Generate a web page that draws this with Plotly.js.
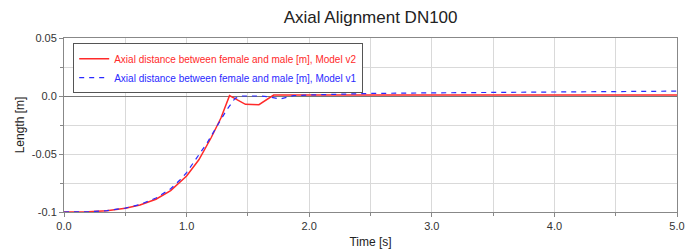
<!DOCTYPE html>
<html>
<head>
<meta charset="utf-8">
<script src="https://cdn.plot.ly/plotly-3.0.1.min.js"></script>
<style>
  html, body { margin: 0; padding: 0; background: #fff; }
  #chart { width: 694px; height: 249px; }
</style>
</head>
<body>
<div id="chart"></div>
<script>
// ---- Data ----
const timeV2 = [0, 0.2, 0.35, 0.5, 0.62, 0.75, 0.87, 1.0, 1.1, 1.2, 1.28, 1.35, 1.48, 1.59, 1.71, 2.0, 3.0, 3.15, 4.0, 5.0];
const lengthV2 = [-0.1, -0.0998, -0.0989, -0.0968, -0.094, -0.089, -0.0815, -0.069, -0.055, -0.036, -0.019, 0.0003, -0.0072, -0.0075, 0.0008, 0.0007, 0.0007, 0.0008, 0.0008, 0.0008];

const timeV1 = [0, 0.2, 0.35, 0.5, 0.62, 0.75, 0.87, 0.95, 1.0, 1.12, 1.17, 1.245, 1.327, 1.395, 1.45, 1.6, 1.66, 1.76, 1.87, 2.0, 2.5, 3.0, 3.5, 4.0, 4.5, 5.0];
const lengthV1 = [-0.1, -0.0998, -0.0988, -0.0966, -0.0935, -0.088, -0.080, -0.072, -0.066, -0.048, -0.040, -0.0265, -0.012, -0.002, 0.0, 0.0, -0.0005, -0.0026, 0.0003, 0.0009, 0.0022, 0.0027, 0.0032, 0.0036, 0.004, 0.0042];

const nameV2 = 'Axial distance between female and male [m], Model v2';
const nameV1 = 'Axial distance between female and male [m], Model v1';

const xTickVals = [0, 1, 2, 3, 4, 5];
const xTickText = ['0.0', '1.0', '2.0', '3.0', '4.0', '5.0'];
const yTickVals = [-0.1, -0.05, 0, 0.05];
const yTickText = ['-0.1', '-0.05', '0.0', '0.05'];

const colorV2 = '#ff2a2a';
const colorV1 = '#2a2aff';

const traces = [
  {
    x: timeV2, y: lengthV2, type: 'scatter', mode: 'lines',
    name: '<span style="color:' + colorV2 + '">' + nameV2 + '</span>',
    line: { color: colorV2, width: 1.5 }
  },
  {
    x: timeV1, y: lengthV1, type: 'scatter', mode: 'lines',
    name: '<span style="color:' + colorV1 + '">' + nameV1 + '</span>',
    line: { color: colorV1, width: 1.2, dash: '5px,5px' }
  }
];

const tickFont = { family: 'Liberation Sans, Arial, sans-serif', size: 11, color: '#333' };

const layout = {
  width: 694, height: 249,
  margin: { l: 64, r: 17, t: 38, b: 37 },
  paper_bgcolor: '#fff', plot_bgcolor: '#fff',
  font: { family: 'Liberation Sans, Arial, sans-serif', color: '#222' },
  title: {
    text: 'Axial Alignment DN100',
    font: { family: 'Liberation Sans, Arial, sans-serif', size: 17, color: '#222' },
    x: 0.534, xanchor: 'center', y: 0.93, yanchor: 'middle'
  },
  showlegend: true,
  legend: {
    x: 0.015, y: 0.97, xanchor: 'left', yanchor: 'top',
    bgcolor: '#fff', bordercolor: '#555', borderwidth: 1,
    font: { family: 'Liberation Sans, Arial, sans-serif', size: 10 },
    tracegroupgap: 0, itemwidth: 30
  },
  xaxis: {
    range: [0, 5], tickvals: xTickVals, ticktext: xTickText,
    showgrid: true, gridcolor: '#d9d9d9', gridwidth: 1,
    minor: { dtick: 0.5, showgrid: true, gridcolor: '#d9d9d9', ticks: 'outside', ticklen: 3, tickcolor: '#888' },
    ticks: 'outside', ticklen: 4, tickcolor: '#888',
    showline: true, linecolor: '#888', linewidth: 1, mirror: true,
    zeroline: false, tickfont: tickFont,
    title: { text: 'Time [s]', font: { size: 12, color: '#222' }, standoff: 8 }
  },
  yaxis: {
    range: [-0.1, 0.05], tickvals: yTickVals, ticktext: yTickText,
    showgrid: true, gridcolor: '#d9d9d9', gridwidth: 1,
    minor: { dtick: 0.025, showgrid: true, gridcolor: '#d9d9d9', ticks: 'outside', ticklen: 3, tickcolor: '#888' },
    ticks: 'outside', ticklen: 4, tickcolor: '#888',
    showline: true, linecolor: '#888', linewidth: 1, mirror: true,
    zeroline: true, zerolinecolor: '#777', zerolinewidth: 1,
    tickfont: tickFont,
    title: { text: 'Length [m]', font: { size: 12, color: '#222' }, standoff: 4 }
  }
};

Plotly.newPlot('chart', traces, layout, { displayModeBar: false, staticPlot: true });
</script>
</body>
</html>
